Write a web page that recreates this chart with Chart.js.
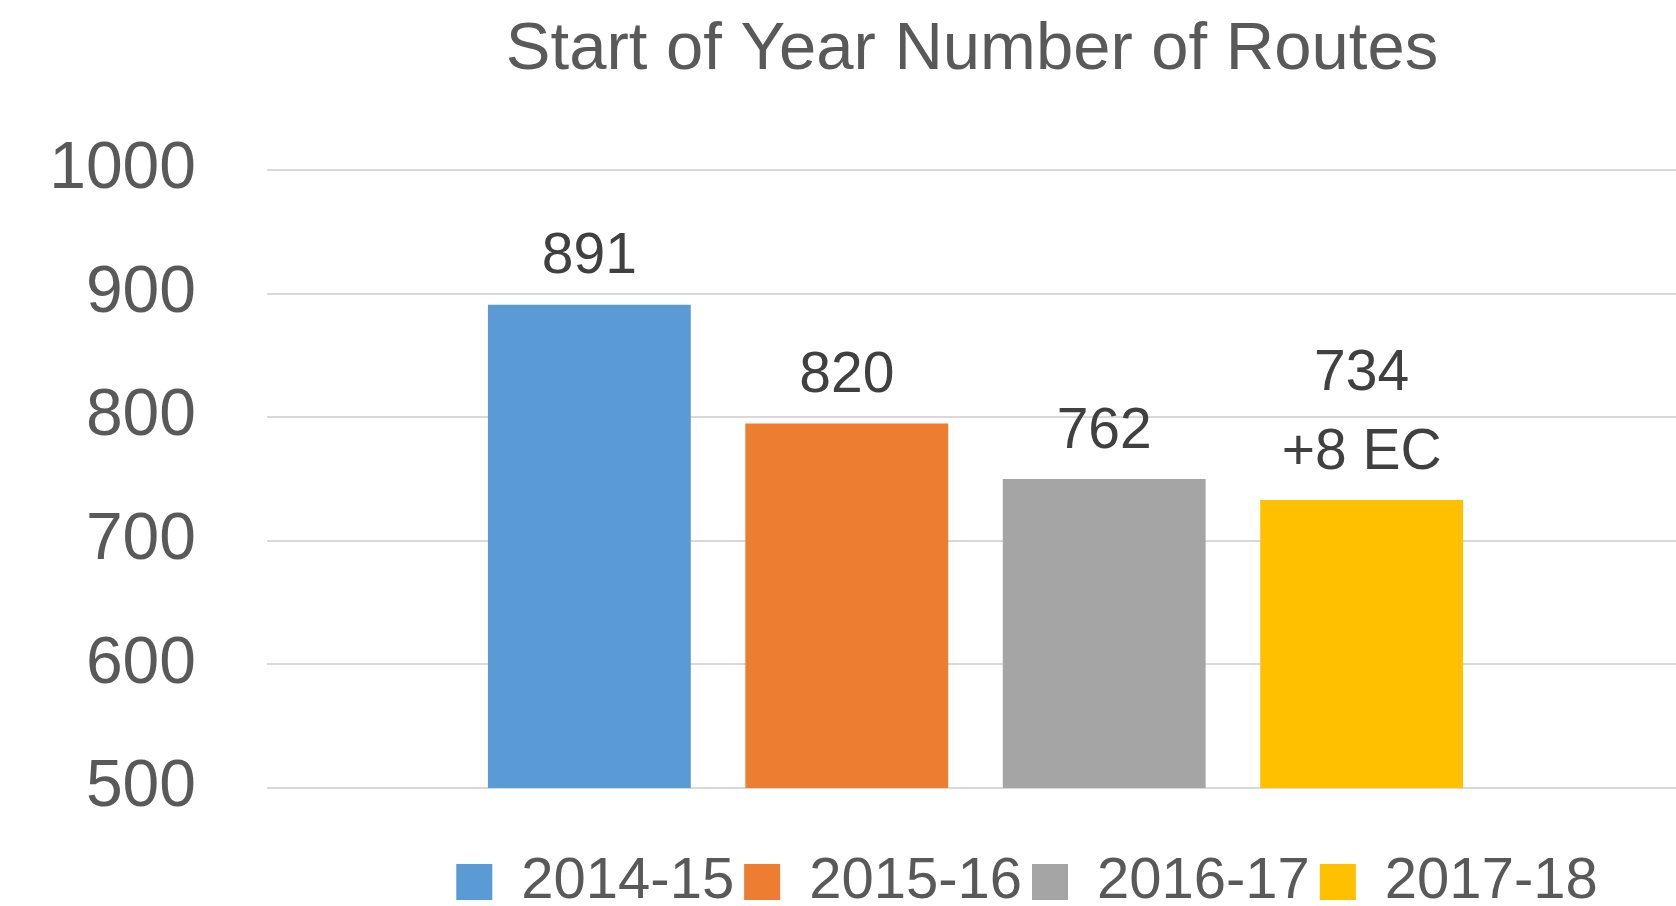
<!DOCTYPE html>
<html lang="en">
<head>
    <meta charset="UTF-8">
    <title>Start of Year Number of Routes</title>
    <script src="https://cdn.jsdelivr.net/npm/chart.js"></script>
    <style>
        body {
            margin: 0;
            background: #FFFFFF;
            overflow: hidden;
        }

        #chartBox {
            width: 1676px;
            height: 906px;
        }
    </style>
</head>
<body>
    <div id="chartBox">
        <canvas id="routesChart"></canvas>
    </div>

    <script>
        // data
        const categories = ['Start of Year'];
        const seasons = ['2014-15', '2015-16', '2016-17', '2017-18'];
        const routes = [891, 795, 750, 733];          // bar heights as drawn
        const valueLabels = [['891'], ['820'], ['762'], ['734', '+8 EC']];  // text printed above bars
        const yTicks = [500, 600, 700, 800, 900, 1000];
        const seasonColors = ['#5B9BD5', '#ED7D31', '#A5A5A5', '#FFC000'];

        const FONT = '"Liberation Sans", Arial, sans-serif';

        // draws the printed numbers above each bar
        const barLabels = {
            id: 'barLabels',
            afterDatasetsDraw(chart) {
                const ctx = chart.ctx;
                ctx.save();
                ctx.font = '57px ' + FONT;
                ctx.fillStyle = '#404040';
                ctx.textAlign = 'center';
                ctx.textBaseline = 'middle';
                chart.data.datasets.forEach((ds, i) => {
                    const bar = chart.getDatasetMeta(i).data[0];
                    const lines = valueLabels[i];
                    lines.forEach((txt, j) => {
                        ctx.fillText(txt, bar.x, bar.y - 47 - (lines.length - 1 - j) * 79);
                    });
                });
                ctx.restore();
            }
        };

        // title and legend sit off-centre in the original
        const nudgeBoxes = {
            id: 'nudgeBoxes',
            afterLayout(chart) {
                const t = chart.titleBlock;
                t.left += 134; t.right += 134;
                const lg = chart.legend;
                lg.left += 189; lg.right += 189;
                lg.top += 55; lg.bottom += 55;
            }
        };

        const datasets = seasons.map((s, i) => ({
            label: s,
            data: [routes[i]],
            backgroundColor: seasonColors[i],
            borderWidth: 0,
            categoryPercentage: 0.735,
            barPercentage: 0.788
        }));

        new Chart(document.getElementById('routesChart'), {
            type: 'bar',
            data: {
                labels: categories,
                datasets: datasets
            },
            plugins: [barLabels, nudgeBoxes],
            options: {
                responsive: true,
                maintainAspectRatio: false,
                animation: false,
                layout: {
                    padding: { left: 0, right: 0, top: 0, bottom: 40 }
                },
                plugins: {
                    title: {
                        display: true,
                        text: 'Start of Year Number of Routes',
                        color: '#595959',
                        font: { family: FONT, size: 67, weight: 'normal' },
                        padding: { top: 10, bottom: 79.6 }
                    },
                    legend: {
                        position: 'bottom',
                        labels: {
                            boxWidth: 36,
                            boxHeight: 36,
                            padding: 10,
                            color: '#595959',
                            font: { family: FONT, size: 58 }
                        }
                    },
                    tooltip: { enabled: false }
                },
                scales: {
                    x: {
                        display: false
                    },
                    y: {
                        min: yTicks[0],
                        max: yTicks[yTicks.length - 1],
                        afterFit(axis) { axis.width = 275; },
                        afterBuildTicks(axis) { axis.ticks = yTicks.map(v => ({ value: v })); },
                        border: { display: false },
                        // tick marks continue the gridlines a little to the left
                        grid: { color: '#D9D9D9', lineWidth: 2, drawTicks: true, tickLength: 8 },
                        ticks: {
                            padding: 71,
                            color: '#595959',
                            font: { family: FONT, size: 66 },
                            callback: v => String(v)
                        }
                    }
                }
            }
        });
    </script>
</body>
</html>
